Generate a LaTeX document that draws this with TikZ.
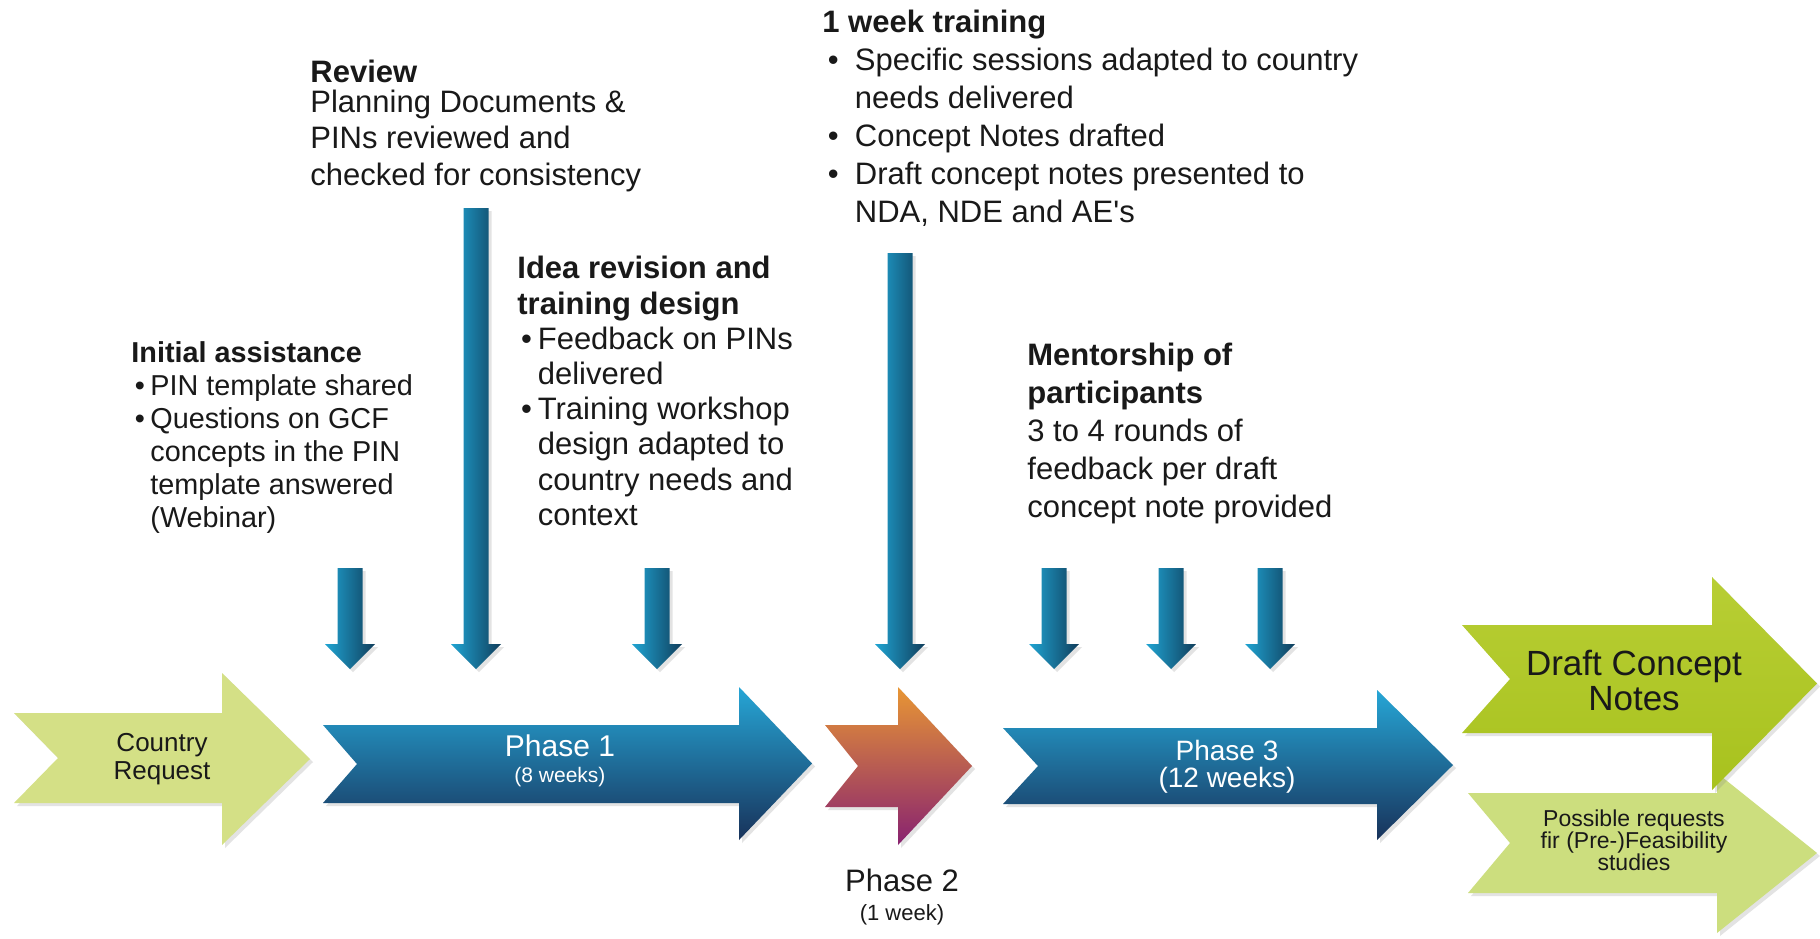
\documentclass[tikz,border=0pt]{standalone}
\usepackage{fontspec}
\setmainfont{Liberation Sans}[Ligatures=TeXOff]
\usepackage{xcolor}
\usetikzlibrary{shadows}

\definecolor{txtgray}{RGB}{25,25,25}
\definecolor{reqgreen}{RGB}{212,224,134}
\definecolor{draftgreen}{RGB}{184,206,52}
\definecolor{draftdark}{RGB}{168,194,30}
\definecolor{possgreen}{RGB}{204,222,126}
\definecolor{phtop}{RGB}{38,166,214}
\definecolor{phbot}{RGB}{24,50,90}
\definecolor{phorange}{RGB}{232,150,52}
\definecolor{phmid}{RGB}{196,84,82}
\definecolor{phpurple}{RGB}{136,34,112}
\definecolor{dropleft}{RGB}{32,164,210}
\definecolor{dropright}{RGB}{16,62,92}

% bullets for the text blocks
\newcommand{\bulshort}{\makebox[0.66em][l]{\hspace{0.12em}\textbullet}}
\newcommand{\indshort}{\hspace*{0.66em}}
\newcommand{\bullong}{\makebox[1.05em][l]{\hspace{0.18em}\textbullet}}
\newcommand{\indlong}{\hspace*{1.05em}}

% #1 style, #2 tail x, #3 notch x, #4/#5 shaft top/bottom, #6 head x, #7/#8 head top/bottom, #9 tip x
\newcommand{\chevron}[9]{%
  \path[#1] (#2,#4) -- (#6,#4) -- (#6,#7) -- (#9,{(#7+#8)/2}) -- (#6,#8)
    -- (#6,#5) -- (#2,#5) -- (#3,{(#4+#5)/2}) -- cycle;}
% #1 centre x, #2 top y
\newcommand{\droparrow}[2]{%
  \path[dropfill] (#1-12.5,#2) -- (#1+12.5,#2) -- (#1+12.5,644) -- (#1+25,644)
    -- (#1,669) -- (#1-25,644) -- (#1-12.5,644) -- cycle;}

\begin{document}
\begin{tikzpicture}[x=0.5pt,y=-0.5pt]
	\tikzstyle{every node}+=[inner sep=0pt,text=txtgray]
	\tikzstyle{block}=[anchor=north west,align=left,font=\fontsize{15.5}{19}\selectfont]
	\tikzstyle{shade}=[drop shadow={opacity=0.22,shadow xshift=1.5pt,shadow yshift=-1.5pt}]
	\tikzstyle{reqfill}=[shade,fill=reqgreen]
	\tikzstyle{bluefill}=[shade,top color=phtop,bottom color=phbot]
	\tikzstyle{orangefill}=[shade,top color=phorange,middle color=phmid,bottom color=phpurple]
	\tikzstyle{draftfill}=[shade,top color=draftgreen,bottom color=draftdark]
	\tikzstyle{possfill}=[shade,fill=possgreen]
	\tikzstyle{dropfill}=[shade,left color=dropleft,right color=dropright]
	\useasboundingbox[fill=white] (0,0) rectangle (1820,938);

	% horizontal arrows
	\chevron{reqfill}{14}{58}{713}{803}{222}{673}{845}{310}
	\chevron{bluefill}{323}{357}{725}{803}{739}{687}{840}{812}
	\chevron{orangefill}{825}{858}{725}{807}{898}{687}{845}{972}
	\chevron{bluefill}{1003}{1038}{728}{804}{1377}{690}{840}{1453}
	\chevron{possfill}{1468}{1510}{793}{893}{1717}{773}{933}{1817}
	\chevron{draftfill}{1462}{1510}{625}{733}{1712}{577}{790}{1817}

	% arrows coming down
	\foreach \xa in {350,657,1054,1171,1270}
		\droparrow{\xa}{568};
	\droparrow{476}{208}
	\droparrow{900}{253}

	% labels in the arrows
	\node[align=center,font=\fontsize{13}{14}\selectfont] (request) at (162,759) {Country\\Request};
	\node[text=white,font=\fontsize{15}{17}\selectfont] (phaseone) at (560,746) {Phase 1};
	\node[text=white,font=\fontsize{10.5}{12}\selectfont] (phaseoneweeks) at (560,777) {(8 weeks)};
	\node[font=\fontsize{15.5}{17}\selectfont] (phasetwo) at (902,880) {Phase 2};
	\node[font=\fontsize{11}{13}\selectfont] (phasetwoweeks) at (902,915) {(1 week)};
	\node[text=white,font=\fontsize{14}{16}\selectfont] (phasethree) at (1227,750) {Phase 3};
	\node[text=white,font=\fontsize{14}{16}\selectfont] (phasethreeweeks) at (1227,780) {(12 weeks)};
	\node[align=center,font=\fontsize{17.5}{17.5}\selectfont] (draft) at (1634,680) {Draft Concept\\Notes};
	\node[align=center,font=\fontsize{11.5}{11}\selectfont] (possible) at (1634,840) {Possible requests\\fir (Pre-)Feasibility\\studies};

	% text blocks
	\node[block,font=\fontsize{15.5}{18.3}\selectfont] (review) at (310,60) {\textbf{Review}\\[-3.6pt]
		Planning Documents \&\\
		PINs reviewed and\\
		checked for consistency};
	\node[block,font=\fontsize{14.4}{16.5}\selectfont] (initial) at (131,341) {\textbf{Initial assistance}\\
		\bulshort PIN template shared\\
		\bulshort Questions on GCF\\
		\indshort concepts in the PIN\\
		\indshort template answered\\
		\indshort (Webinar)};
	\node[block,font=\fontsize{15.5}{17.6}\selectfont] (idea) at (517,256) {\textbf{Idea revision and}\\
		\textbf{training design}\\
		\bulshort Feedback on PINs\\
		\indshort delivered\\
		\bulshort Training workshop\\
		\indshort design adapted to\\
		\indshort country needs and\\
		\indshort context};
	\node[block] (training) at (822,10) {\textbf{1 week training}\\
		\bullong Specific sessions adapted to country\\
		\indlong needs delivered\\
		\bullong Concept Notes drafted\\
		\bullong Draft concept notes presented to\\
		\indlong NDA, NDE and AE's};
	\node[block] (mentorship) at (1027,343) {\textbf{Mentorship of}\\
		\textbf{participants}\\
		3 to 4 rounds of\\
		feedback per draft\\
		concept note provided};
\end{tikzpicture}
\end{document}
